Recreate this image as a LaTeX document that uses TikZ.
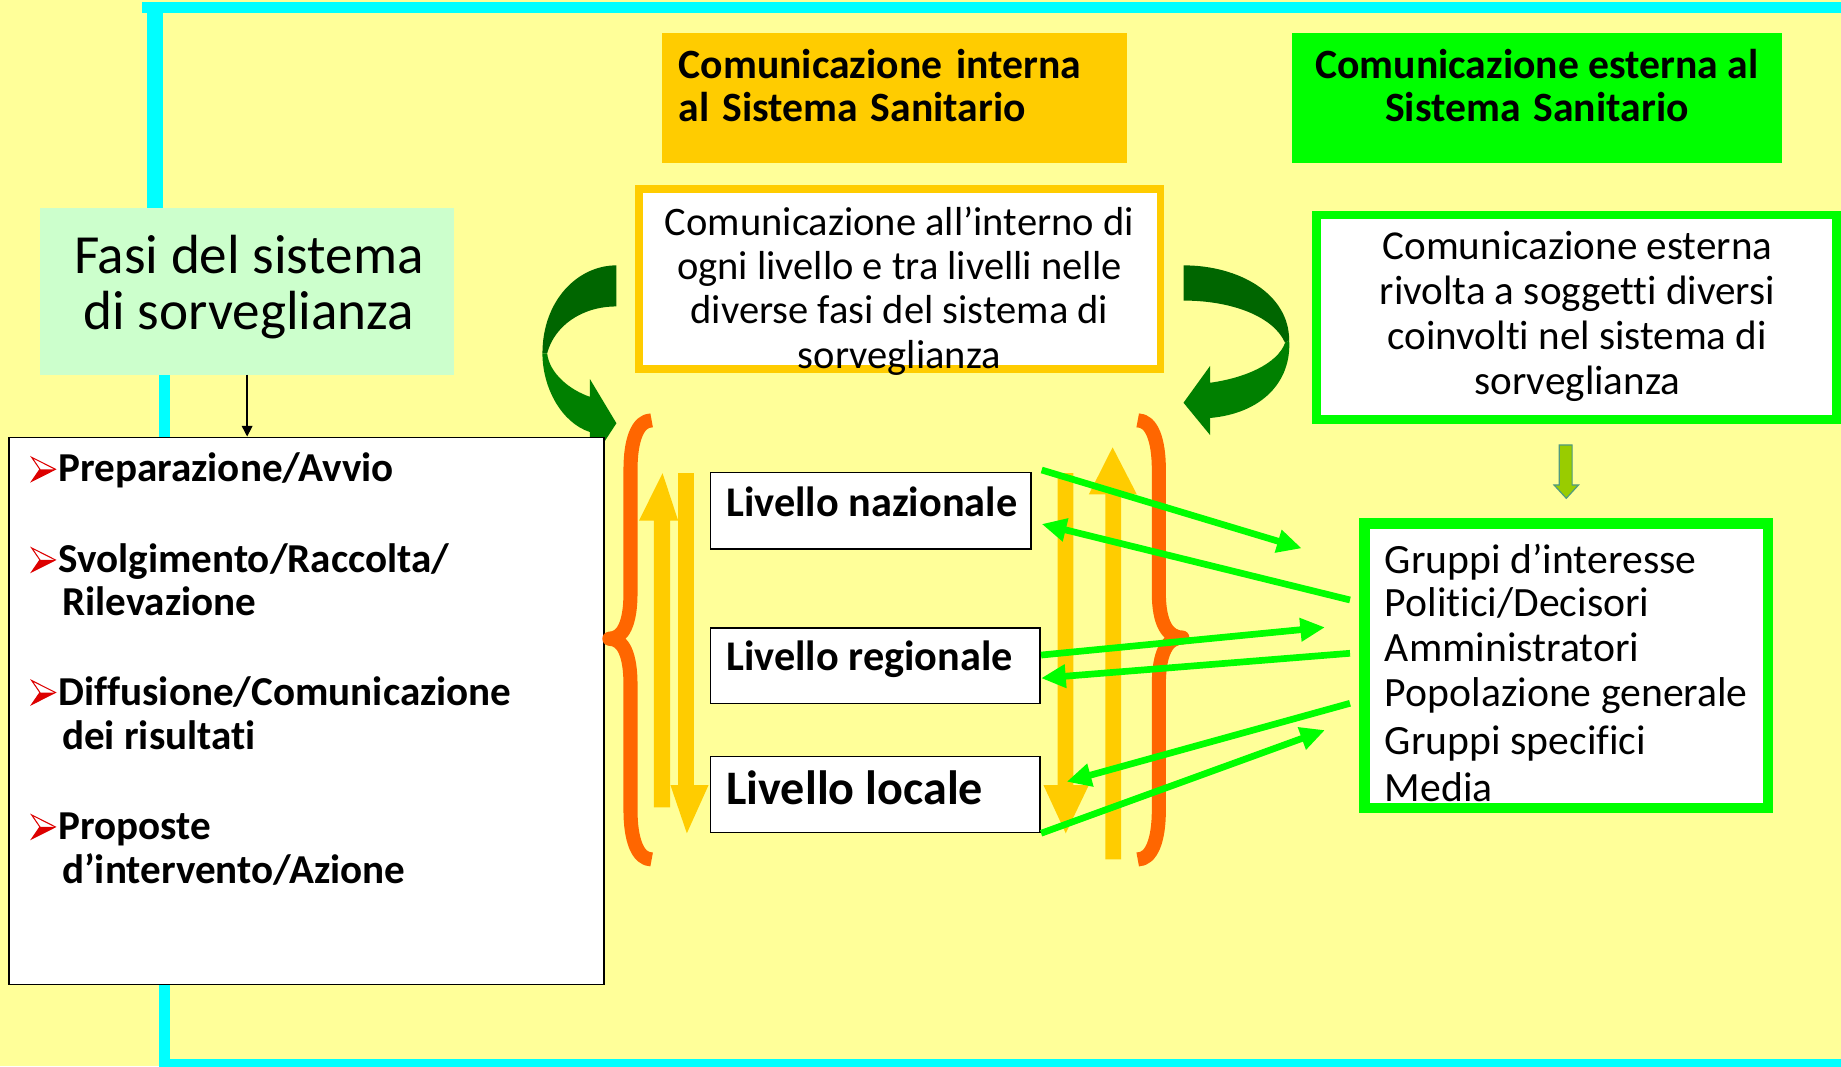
\documentclass[tikz,border=0pt]{standalone}
\usepackage{fontspec}
\setmainfont{Carlito}[Ligatures=NoCommon]
\usetikzlibrary{arrows.meta,calc}
\definecolor{bgy}{HTML}{FFFF99}
\definecolor{cyanF}{HTML}{00FFFF}
\definecolor{gold}{HTML}{FFCC00}
\definecolor{lime}{HTML}{00FF00}
\definecolor{fasig}{HTML}{CCFFCC}
\definecolor{orgbr}{HTML}{FF6600}
\definecolor{dkgreen}{HTML}{006600}
\definecolor{ltgreen}{HTML}{008000}
\definecolor{olive}{HTML}{99CC00}
\definecolor{olivedge}{HTML}{4F9A80}
\definecolor{bred}{HTML}{DD0000}
\newcommand\myfs[1]{\fontsize{#1}{#1}\selectfont}
\begin{document}
\begin{tikzpicture}[x=1pt,y=-1pt,
  txt/.style={inner sep=0pt, outer sep=0pt},
  plainbox/.style={inner sep=0pt, outer sep=0pt},
  lvlbox/.style={draw=black, line width=1.5pt, fill=white, inner sep=0pt},
  garrow/.style={draw=lime, line width=5.7pt, -{Triangle[length=21pt,width=19pt]}},
  brace/.style={draw=orgbr, line width=12pt, line join=round},
  yarrow/.style={fill=gold},
  regtxt/.style={txt, font=\myfs{34.5}},
  boldtxt/.style={txt, font=\bfseries\myfs{35.5}},
]
\useasboundingbox (0,0) rectangle (1568,908);
\clip (0,0) rectangle (1568,908);
\fill[bgy] (0,0) rectangle (1568,908);

% cyan frame
\fill[cyanF] (120.6,1.4) rectangle (1568,11.4);
\fill[cyanF] (125.5,1.4) rectangle (138.8,180);
\fill[cyanF] (135.5,315) rectangle (145,908);
\fill[cyanF] (135.5,901.6) rectangle (1568,912);

% headers
\node[plainbox, fill=gold, minimum width=396pt, minimum height=111pt, anchor=north west] (hdrInt) at (564,28) {};
\node[boldtxt, anchor=base west] (hdrIntL1) at (578,66.7) {Comunicazione\hspace{4pt} interna};
\node[boldtxt, anchor=base west] (hdrIntL2) at (578,103.6) {al\hspace{3pt} Sistema\hspace{3pt} Sanitario};

\node[plainbox, fill=lime, minimum width=418pt, minimum height=111.2pt, anchor=north west] (hdrExt) at (1100,27.8) {};
\node[boldtxt, anchor=base] (hdrExtL1) at (1309,66.7) {Comunicazione esterna al};
\node[boldtxt, anchor=base] (hdrExtL2) at (1309,103.6) {Sistema\hspace{3pt} Sanitario};

% Fasi box
\node[plainbox, fill=fasig, minimum width=353pt, minimum height=142pt, anchor=north west] (fasi) at (34,177) {};
\node[txt, font=\myfs{47}, anchor=base] (fasiL1) at (212,233) {Fasi del sistema};
\node[txt, font=\myfs{47}, anchor=base] (fasiL2) at (212,281) {di sorveglianza};

% internal communication box
\node[draw=gold, line width=6.5pt, fill=white, inner sep=0pt, minimum width=444pt, minimum height=153.3pt] (intBox) at (766.25,237.5) {};
\node[regtxt, anchor=base] (intL1) at (766,200.2) {Comunicazione all’interno di};
\node[regtxt, anchor=base] (intL2) at (766,238) {ogni livello e tra livelli nelle};
\node[regtxt, anchor=base] (intL3) at (766,275.8) {diverse fasi del sistema di};
\node[regtxt, anchor=base] (intL4) at (766,313.6) {sorveglianza};

% external communication box
\node[draw=lime, line width=7.4pt, fill=white, inner sep=0pt, minimum width=443.1pt, minimum height=174.3pt] (extBox) at (1342.75,270.25) {};
\node[regtxt, font=\myfs{35}, anchor=base] (extL1) at (1343.5,221.4) {Comunicazione esterna};
\node[regtxt, font=\myfs{35}, anchor=base] (extL2) at (1343.5,259.6) {rivolta a soggetti diversi};
\node[regtxt, font=\myfs{35}, anchor=base] (extL3) at (1343.5,297.8) {coinvolti nel sistema di};
\node[regtxt, font=\myfs{35}, anchor=base] (extL4) at (1343.5,336) {sorveglianza};

% curved green arrows
\fill[dkgreen] (525,226) .. controls (492,226) and (462,256) .. (462,301) -- (466,301)
  .. controls (472,278) and (495,261) .. (525,261) -- cycle;
\fill[ltgreen] (462,301) .. controls (462,330) and (478,360) .. (502.5,368) -- (502.5,395) -- (525,360.5)
  -- (502.5,323) -- (502.5,338) .. controls (485,332) and (468,318) .. (466,301) -- cycle;
\fill[dkgreen] (1008,226) .. controls (1055,226) and (1098,250) .. (1098,290) -- (1094.5,292)
  .. controls (1085,270) and (1050,256) .. (1008,256) -- cycle;
\fill[ltgreen] (1098,290) .. controls (1100,325) and (1075,352) .. (1030.6,356) -- (1030.6,370.5)
  -- (1008,343) -- (1030.6,311.7) -- (1030.6,326) .. controls (1060,322) and (1088,310) .. (1094.5,292) -- cycle;

% list box
\node[draw=black, line width=1.5pt, fill=white, inner sep=0pt, minimum width=507.1pt, minimum height=465.9pt] (listbox) at (261,605.5) {};
\foreach \yy in {399.7,476.9,589.8,704.3}{
  \begin{scope}[shift={(0,\yy)}]
    \filldraw[fill=white, draw=bred, line width=0.9pt, line join=miter] (27,-10.2) -- (47.2,0) -- (27,10.2) -- (34,0) -- cycle;
    \fill[bred] (34,0) -- (47.2,0) -- (27,10.2) -- cycle;
  \end{scope}
}
\node[txt, font=\bfseries\myfs{35}, anchor=base west] (li1) at (49.8,410.4) {Preparazione/Avvio};
\node[txt, font=\bfseries\myfs{35}, anchor=base west] (li2a) at (49.8,487.6) {Svolgimento/Raccolta/};
\node[txt, font=\bfseries\myfs{35}, anchor=base west] (li2b) at (53,524.4) {Rilevazione};
\node[txt, font=\bfseries\myfs{35}, anchor=base west] (li3a) at (49.8,600.5) {Diffusione/Comunicazione};
\node[txt, font=\bfseries\myfs{35}, anchor=base west] (li3b) at (53,638.5) {dei risultati};
\node[txt, font=\bfseries\myfs{35}, anchor=base west] (li4a) at (49.8,715) {Proposte};
\node[txt, font=\bfseries\myfs{35}, anchor=base west] (li4b) at (53,752.5) {d’intervento/Azione};

\draw[line width=1.2pt, -{Triangle[length=9pt,width=9pt]}] (fasi.south) -- (fasi.south |- listbox.north);

% braces
\draw[brace] (555,358) .. controls (543,358) and (537,375) .. (537,400) -- (537,505)
  .. controls (537,530) and (531,544) .. (519,544) .. controls (531,544) and (537,558) .. (537,583)
  -- (537,690) .. controls (537,715) and (543,732) .. (555,732);
\draw[brace] (969,358) .. controls (981,358) and (987,375) .. (987,400) -- (987,505)
  .. controls (987,530) and (994,543) .. (1007,543) .. controls (994,543) and (987,556) .. (987,583)
  -- (987,690) .. controls (987,715) and (981,732) .. (969,732);

% yellow block arrows
\fill[yarrow] (556.8,687.6) -- (556.8,443.5) -- (544.2,443.5) -- (564.3,403) -- (577.6,443.5) -- (570.8,443.5) -- (570.8,687.6) -- cycle;
\fill[yarrow] (577.6,403) -- (590.9,403) -- (590.9,668.6) -- (603.5,668.6) -- (585,709.7) -- (571,668.6) -- (577.6,668.6) -- cycle;
\fill[yarrow] (900.8,403) -- (914.1,403) -- (914.1,668.6) -- (927.4,668.6) -- (907.7,709.7) -- (888.7,668.6) -- (900.8,668.6) -- cycle;
\fill[yarrow] (941.5,731.9) -- (941.5,421) -- (927.4,421) -- (947.6,381) -- (968.2,421) -- (954.8,421) -- (954.8,731.9) -- cycle;

% level boxes
\node[lvlbox, minimum width=273.3pt, minimum height=65.2pt] (nat) at (741.7,435.05) {};
\node[lvlbox, minimum width=280.9pt, minimum height=64.1pt] (reg) at (745.5,567.1) {};
\node[lvlbox, minimum width=280.9pt, minimum height=64.6pt] (loc) at (745.5,676.65) {};
\node[txt, font=\bfseries\myfs{36}, anchor=base west] (natT) at (618.7,440) {Livello nazionale};
\node[txt, font=\bfseries\myfs{36}, anchor=base west] (regT) at (618.7,571.2) {Livello regionale};
\node[txt, font=\bfseries\myfs{41}, anchor=base west] (locT) at (618.7,685.6) {Livello locale};

% gruppi box
\node[draw=lime, line width=9pt, fill=white, inner sep=0pt, minimum width=343.5pt, minimum height=242.2pt] (grp) at (1333.95,567.1) {};
\node[txt, font=\myfs{35.5}, anchor=base west] (g1) at (1179.6,488.3) {Gruppi d’interesse};
\node[txt, font=\myfs{35.5}, anchor=base west] (g2) at (1179.6,525.2) {Politici/Decisori};
\node[txt, font=\myfs{35.5}, anchor=base west] (g3) at (1179.6,563.5) {Amministratori};
\node[txt, font=\myfs{35.5}, anchor=base west] (g4) at (1179.6,601.9) {Popolazione generale};
\node[txt, font=\myfs{35.5}, anchor=base west] (g5) at (1179.6,643) {Gruppi specifici};
\node[txt, font=\myfs{35.5}, anchor=base west] (g6) at (1179.6,682.8) {Media};

% olive arrow
\filldraw[fill=olive, draw=olivedge, line width=1pt] (1328,379) -- (1339,379) -- (1339,413) -- (1344.5,413) -- (1334,424.4) -- (1323.5,413) -- (1328,413) -- cycle;

% green connectors
\coordinate (n1) at (887.2,400.3);
\coordinate (e1) at (1108.7,467);
\coordinate (e2s) at (1149.8,511);
\coordinate (n2) at (887.2,446.3);
\coordinate (e3) at (1128.5,534.3);
\coordinate (e4s) at (1149.8,556.4);
\coordinate (e5s) at (1149.8,599);
\coordinate (e5) at (908.5,665.8);
\coordinate (e6) at (1128.5,621.8);
\draw[garrow] (n1) -- (e1);
\draw[garrow] (e2s) -- (n2);
\draw[garrow] ($(reg.north east)!0.36!(reg.south east)$) -- (e3);
\draw[garrow] (e4s) -- ($(reg.north east)!0.66!(reg.south east)$);
\draw[garrow] (e5s) -- (e5);
\draw[garrow] (loc.south east) -- (e6);
\end{tikzpicture}
\end{document}
